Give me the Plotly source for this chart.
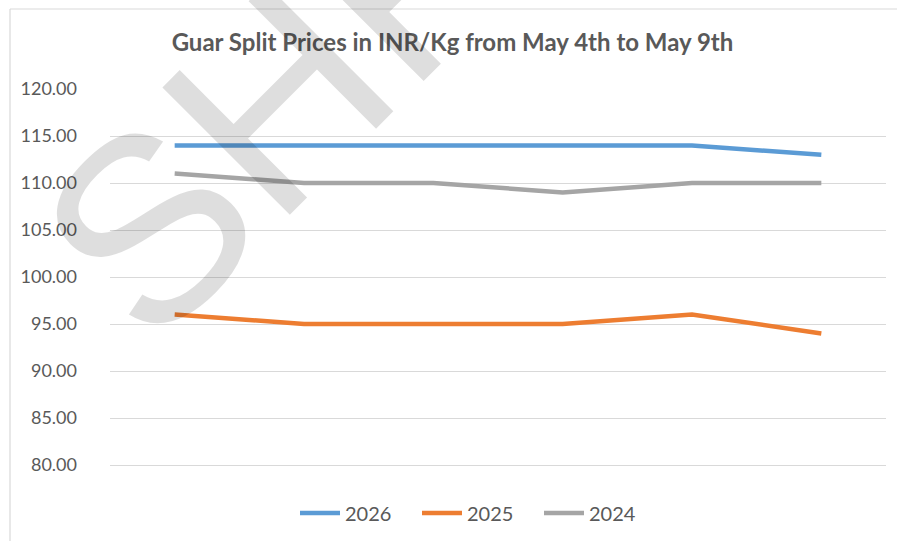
import plotly.graph_objects as go

days = ["May 4", "May 5", "May 6", "May 7", "May 8", "May 9"]
series_names = ["2026", "2025", "2024"]
prices_2026 = [114, 114, 114, 114, 114, 113]
prices_2025 = [96, 95, 95, 95, 96, 94]
prices_2024 = [111, 110, 110, 109, 110, 110]
y_ticks = [80, 85, 90, 95, 100, 105, 110, 115, 120]
colors = ["#5B9BD5", "#ED7D31", "#A5A5A5"]

W, H = 898, 542
L, R, T, B = 110, 12, 89, 77
pw, ph = W - L - R, H - T - B

def px(x):
    return (x - L) / pw

def py(y):
    return (H - B - y) / ph

fig = go.Figure()
for name, vals, c in zip(series_names, [prices_2026, prices_2025, prices_2024], colors):
    fig.add_trace(go.Scatter(x=days, y=vals, mode="lines", name=name,
                             line=dict(color=c, width=4.5)))

FONT = "Lato, 'Open Sans', sans-serif"
fig.update_layout(
    width=W, height=H,
    margin=dict(l=L, r=R, t=T, b=B, autoexpand=False),
    paper_bgcolor="white", plot_bgcolor="white",
    title=dict(text="<b>Guar Split Prices in INR/Kg from May 4th to May 9th</b>",
               x=452.5 / W, xanchor="center", y=1 - 43 / H, yanchor="middle",
               font=dict(family=FONT, size=24, color="#595959")),
    font=dict(family=FONT, size=18, color="#595959"),
    xaxis=dict(range=[-0.5, 5.5], showticklabels=False, showgrid=False,
               zeroline=False, showline=True, linecolor="#d9d9d9", linewidth=1.3,
               fixedrange=True),
    yaxis=dict(range=[80, 120], tickvals=y_ticks,
               ticktext=[f"{v:.2f}" for v in y_ticks],
               showgrid=True, gridcolor="#d9d9d9", gridwidth=1.3,
               zeroline=False, showline=False, ticks="", ticklabelstandoff=32,
               tickfont=dict(family=FONT, size=18, color="#595959")),
    legend=dict(orientation="h", xanchor="center", x=px(478), y=py(513),
                yanchor="middle", font=dict(family=FONT, size=20, color="#595959"),
                itemwidth=40, entrywidth=67, bgcolor="rgba(0,0,0,0)"),
    showlegend=True,
)

# chart border (top and left edges visible)
fig.add_shape(type="line", xref="paper", yref="paper",
              x0=px(10), y0=py(9), x1=px(897), y1=py(9),
              line=dict(color="#d9d9d9", width=1.2))
fig.add_shape(type="line", xref="paper", yref="paper",
              x0=px(10), y0=py(9), x1=px(10), y1=py(541),
              line=dict(color="#d9d9d9", width=1.2))

# watermark
fig.add_annotation(text="SHF", xref="paper", yref="paper",
                   x=px(272), y=py(104), xanchor="center", yanchor="middle",
                   textangle=-45, showarrow=False,
                   font=dict(family="Liberation Sans, Arial, sans-serif", size=262,
                             color="rgba(0,0,0,0.13)"))

fig.write_html("out.html", config={"displayModeBar": False},
               post_script="document.body.style.margin='0';")
